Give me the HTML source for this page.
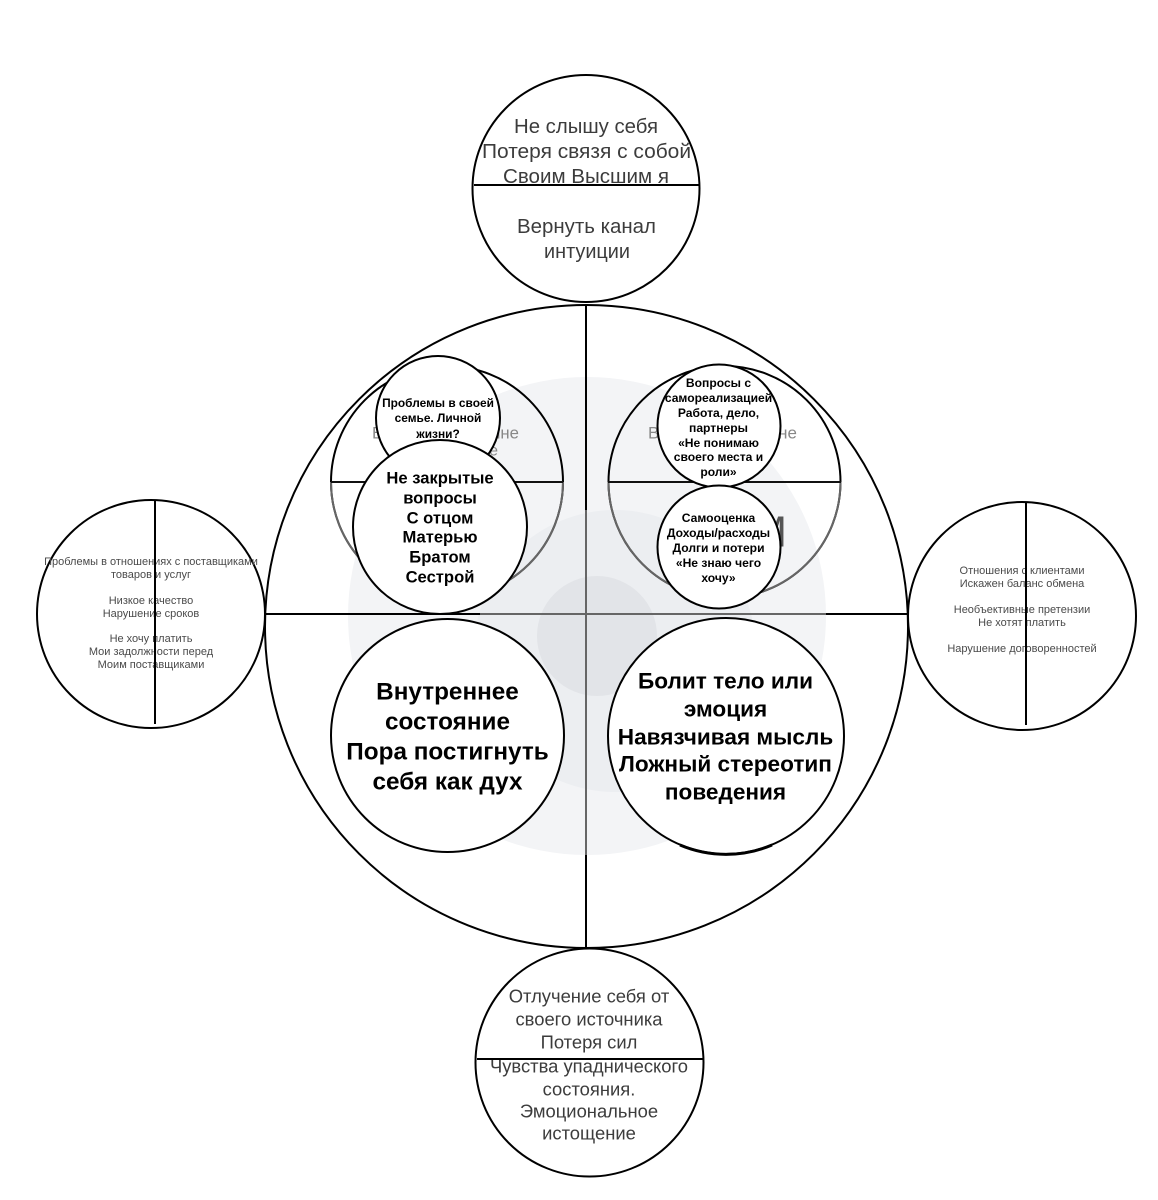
<!DOCTYPE html>
<html><head><meta charset="utf-8"><style>
html,body{margin:0;padding:0;background:#fff}
svg{display:block}
text{font-family:"Liberation Sans",sans-serif;text-anchor:middle;dominant-baseline:central}
.c{fill:#fff;stroke:#000;stroke-width:2}
.n{fill:none;stroke:#000;stroke-width:2}
.b{font-weight:bold;fill:#000}
.t{fill:#3c3c3c}
</style></head><body>
<svg width="1158" height="1200" viewBox="0 0 1158 1200">
<rect width="1158" height="1200" fill="#fff"/>
<circle cx="587" cy="616" r="239" fill="#f3f4f6"/>
<circle cx="615" cy="651" r="141" fill="#eceef1"/>
<circle cx="597" cy="636" r="60" fill="#e2e4e8"/>
<circle class="n" cx="586.5" cy="626.5" r="321.5"/>
<line x1="266" y1="614" x2="480" y2="614" stroke="#000" stroke-width="2"/>
<line x1="480" y1="614" x2="826" y2="614" stroke="#666" stroke-width="2"/>
<line x1="826" y1="614" x2="908" y2="614" stroke="#000" stroke-width="2"/>
<line x1="586" y1="305" x2="586" y2="510" stroke="#000" stroke-width="2"/>
<line x1="586" y1="510" x2="586" y2="855" stroke="#666" stroke-width="2"/>
<line x1="586" y1="855" x2="586" y2="948" stroke="#000" stroke-width="2"/>

<circle class="n" cx="447" cy="482" r="116"/>
<circle class="n" cx="724.5" cy="482" r="116"/>
<path d="M 331 482 A 116 116 0 0 0 563 482" fill="none" stroke="#666" stroke-width="2"/>
<path d="M 608.5 482 A 116 116 0 0 0 840.5 482" fill="none" stroke="#666" stroke-width="2"/>
<line x1="331" y1="482" x2="563" y2="482" stroke="#111" stroke-width="2"/>
<line x1="608" y1="482" x2="841" y2="482" stroke="#111" stroke-width="2"/>
<text x="445.5" y="433" font-size="17" fill="#888" textLength="147" lengthAdjust="spacingAndGlyphs">Внутренне внешне</text>
<text x="722.5" y="433" font-size="17" fill="#888" textLength="149" lengthAdjust="spacingAndGlyphs">Внутренне внешне</text>
<text x="454" y="451" font-size="16" fill="#888">Внутреннее</text>
<text x="787" y="532" font-size="44" fill="#555" style="text-anchor:end">М</text>

<circle class="c" cx="438" cy="418" r="62"/>
<circle class="c" cx="440" cy="527" r="87"/>
<circle class="c" cx="719" cy="426" r="61.5"/>
<circle class="c" cx="719" cy="547" r="61.5"/>
<circle class="c" cx="447.5" cy="735.5" r="116.5"/>
<circle class="c" cx="726" cy="736" r="118"/>
<path d="M 680 845 A 118 118 0 0 0 772 845" fill="none" stroke="#000" stroke-width="3"/>

<g class="b" font-size="11.9">
<text x="438" y="403">Проблемы в своей</text>
<text x="438" y="418">семье. Личной</text>
<text x="438" y="434">жизни?</text>
</g>
<g class="b" font-size="16.6">
<text x="440" y="478">Не закрытые</text>
<text x="440" y="498">вопросы</text>
<text x="440" y="518">С отцом</text>
<text x="440" y="537">Матерью</text>
<text x="440" y="557">Братом</text>
<text x="440" y="577">Сестрой</text>
</g>
<g class="b" font-size="12.1">
<text x="718.5" y="383">Вопросы с</text>
<text x="718.5" y="398">самореализацией</text>
<text x="718.5" y="413">Работа, дело,</text>
<text x="718.5" y="428">партнеры</text>
<text x="718.5" y="443">«Не понимаю</text>
<text x="718.5" y="457">своего места и</text>
<text x="718.5" y="472">роли»</text>
<text x="718.5" y="518">Самооценка</text>
<text x="718.5" y="533">Доходы/расходы</text>
<text x="718.5" y="548">Долги и потери</text>
<text x="718.5" y="563">«Не знаю чего</text>
<text x="718.5" y="578">хочу»</text>
</g>
<g class="b" font-size="24.3">
<text x="447.5" y="692">Внутреннее</text>
<text x="447.5" y="722">состояние</text>
<text x="447.5" y="752">Пора постигнуть</text>
<text x="447.5" y="782">себя как дух</text>
</g>
<g class="b" font-size="22.6">
<text x="725.5" y="681">Болит тело или</text>
<text x="725.5" y="709">эмоция</text>
<text x="725.5" y="737">Навязчивая мысль</text>
<text x="725.5" y="764">Ложный стереотип</text>
<text x="725.5" y="792">поведения</text>
</g>

<circle class="c" cx="586" cy="188.5" r="113.5"/>
<g class="t" font-size="20">
<text x="586" y="127" textLength="144" lengthAdjust="spacingAndGlyphs">Не слышу себя</text>
<text x="586.5" y="152" textLength="209" lengthAdjust="spacingAndGlyphs">Потеря связя с собой</text>
<text x="586" y="177" textLength="166" lengthAdjust="spacingAndGlyphs">Своим Высшим я</text>
<text x="586.5" y="227" textLength="139" lengthAdjust="spacingAndGlyphs">Вернуть канал</text>
<text x="587" y="252" textLength="86" lengthAdjust="spacingAndGlyphs">интуиции</text>
</g>
<line x1="474" y1="185" x2="699" y2="185" stroke="#000" stroke-width="2"/>

<circle class="c" cx="589.5" cy="1062.5" r="114"/>
<g class="t" font-size="18.4">
<text x="589" y="996">Отлучение себя от</text>
<text x="589" y="1019">своего источника</text>
<text x="589" y="1042">Потеря сил</text>
<text x="589" y="1066">Чувства упаднического</text>
<text x="589" y="1089">состояния.</text>
<text x="589" y="1111">Эмоциональное</text>
<text x="589" y="1133">истощение</text>
</g>
<line x1="477" y1="1059" x2="703" y2="1059" stroke="#000" stroke-width="2"/>

<circle class="c" cx="151" cy="614" r="114"/>
<g fill="#4a4a4a" font-size="11">
<text x="151" y="562">Проблемы в отношениях с поставщиками</text>
<text x="151" y="575">товаров и услуг</text>
<text x="151" y="601">Низкое качество</text>
<text x="151" y="614">Нарушение сроков</text>
<text x="151" y="639">Не хочу платить</text>
<text x="151" y="652">Мои задолжности перед</text>
<text x="151" y="665">Моим поставщиками</text>
</g>
<line x1="155" y1="501" x2="155" y2="724" stroke="#000" stroke-width="2"/>

<circle class="c" cx="1022" cy="616" r="114"/>
<g fill="#4a4a4a" font-size="11">
<text x="1022" y="571">Отношения с клиентами</text>
<text x="1022" y="584">Искажен баланс обмена</text>
<text x="1022" y="610">Необъективные претензии</text>
<text x="1022" y="623">Не хотят платить</text>
<text x="1022" y="649">Нарушение договоренностей</text>
</g>
<line x1="1026" y1="503" x2="1026" y2="725" stroke="#000" stroke-width="2"/>
</svg>
</body></html>
